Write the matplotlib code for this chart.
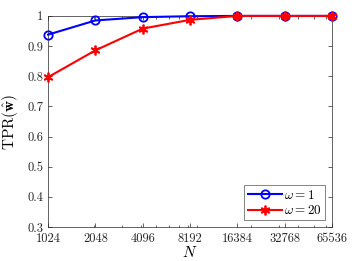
import numpy as np
import matplotlib
matplotlib.use('Agg')
import matplotlib.pyplot as plt
from matplotlib.ticker import FixedLocator, LogLocator, NullFormatter

plt.rcParams['font.family'] = 'serif'
plt.rcParams['font.serif'] = ['cmr10', 'DejaVu Serif']
plt.rcParams['mathtext.fontset'] = 'cm'
plt.rcParams['axes.formatter.use_mathtext'] = True

N = [1024, 2048, 4096, 8192, 16384, 32768, 65536]
tpr_w1 = [0.938, 0.985, 0.996, 0.999, 1.0, 1.0, 1.0]
tpr_w20 = [0.797, 0.886, 0.958, 0.987, 1.0, 1.0, 1.0]
yticks = [0.3, 0.4, 0.5, 0.6, 0.7, 0.8, 0.9, 1]

fig = plt.figure(figsize=(3.59, 2.61), dpi=100)
ax = fig.add_axes([0.134, 0.130, 0.791, 0.809])

ax.plot(N, tpr_w1, '-o', color='#0000ff', lw=1.5, ms=6,
        mfc='none', mew=1.3, label=r'$\omega = 1$', clip_on=False, zorder=3)
ax.plot(N, tpr_w20, '-', marker=(6, 2, 0), color='#ff0000', lw=1.5, ms=7,
        mew=1.3, label=r'$\omega = 20$', clip_on=False, zorder=4)

ax.set_xscale('log', base=2)
ax.set_xlim(1024, 65536)
ax.set_ylim(0.3, 1)
ax.xaxis.set_major_locator(FixedLocator(N))
ax.set_xticklabels([str(n) for n in N])
ax.xaxis.set_minor_locator(LogLocator(base=10, subs=range(2, 10)))
ax.xaxis.set_minor_formatter(NullFormatter())
ax.set_yticks(yticks)
ax.set_yticklabels(['0.3', '0.4', '0.5', '0.6', '0.7', '0.8', '0.9', '1'])

ax.tick_params(which='both', direction='in', top=True, right=True,
               colors='#262626', labelsize=9, width=0.5)
ax.tick_params(axis='x', pad=4)
ax.tick_params(which='major', length=3)
ax.tick_params(which='minor', length=1.8)
for s in ax.spines.values():
    s.set_color('#262626')
    s.set_linewidth(0.5)

ax.set_xlabel(r'$N$', fontsize=11, labelpad=0)
ax.set_ylabel(r'$\mathrm{TPR}(\hat{\mathbf{w}})$', fontsize=11, labelpad=5)

leg = ax.legend(loc='lower right', fontsize=9.5, fancybox=False,
                borderpad=0.25, handlelength=2.6, handletextpad=0.2,
                labelspacing=0.2, borderaxespad=0.5)
leg.get_frame().set_edgecolor('#262626')
leg.get_frame().set_linewidth(0.5)

plt.savefig('out.png', dpi=100)
